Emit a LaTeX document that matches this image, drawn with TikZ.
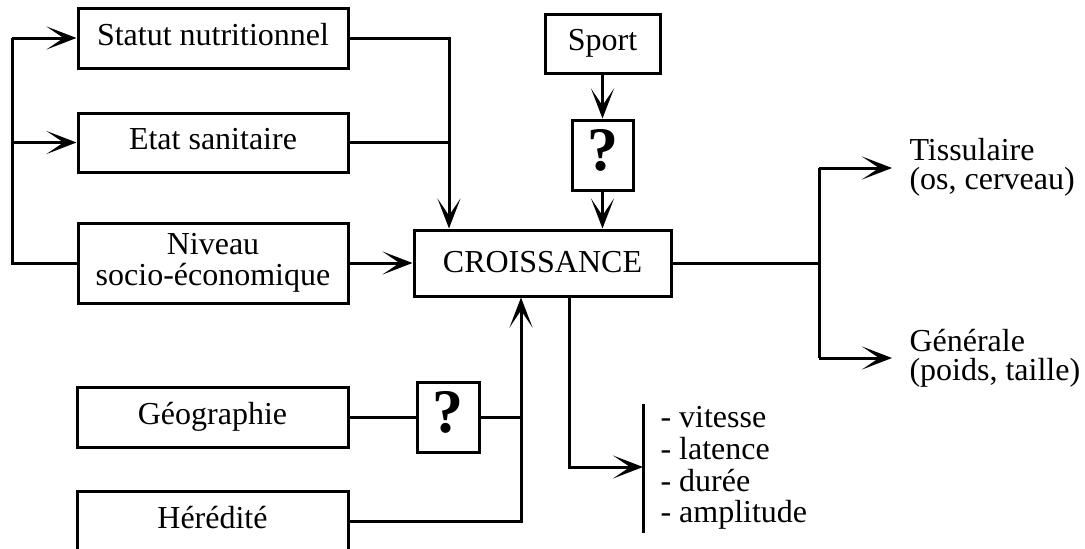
\documentclass[tikz,border=0pt]{standalone}
\usepackage{fontspec}
\setmainfont{Liberation Serif}
\usetikzlibrary{arrows.meta}
\begin{document}
\begin{tikzpicture}[x=1pt,y=-1pt,
  line width=3pt,
  every node/.style={inner sep=0pt},
  box/.style={draw, minimum width=270pt, minimum height=60pt, font=\fontsize{32}{30}\selectfont, text height=22pt, text depth=7.5pt},
  mbox/.style={draw, minimum width=270pt, minimum height=80pt, font=\fontsize{32}{31}\selectfont, align=center},
  qbox/.style={draw, minimum width=61pt, minimum height=70pt, font=\fontsize{62}{62}\selectfont\bfseries, text height=43pt, text depth=13pt},
  lbl/.style={font=\fontsize{32}{29}\selectfont, align=left, anchor=west},
  arr/.style={-{Stealth[length=30pt,width=23pt,inset=17pt,line width=2.6pt]}}
]
\useasboundingbox (0,0) rectangle (1085,549);
% boxes
\node[box] (statut) at (213,38) {Statut nutritionnel};
\node[box, minimum height=59pt] (etat) at (213,142.5) {Etat sanitaire};
\node[mbox] (niveau) at (213,263) {Niveau\\socio-économique};
\node[box, minimum width=257pt, minimum height=66pt, text height=22pt, text depth=4pt] (croiss) at (542.5,263) {CROISSANCE};
\node[box, minimum width=115pt, minimum height=59pt] (sport) at (602.5,43.5) {Sport};
\node[qbox] (q1) at (602.5,155) {?};
\node[box, minimum width=271pt] (geo) at (212.5,417) {Géographie};
\node[box, minimum width=271pt] (hered) at (212.5,521) {Hérédité};
\node[qbox, minimum width=62pt] (q2) at (448,417) {?};
% texts
\node[lbl] (tiss) at (908,167) {Tissulaire\\(os, cerveau)};
\node[lbl] (gen) at (908,358) {Générale\\(poids, taille)};
\node[lbl, font=\fontsize{32}{31.7}\selectfont] (list) at (659,468) {- vitesse\\- latence\\- durée\\- amplitude};
% coordinates
\coordinate (cL0) at (12,38);
\coordinate (cL1) at (12,142.5);
\coordinate (cL2) at (12,263);
\coordinate (j1) at (449,38);
\coordinate (j2) at (819,263);
\coordinate (j2t) at (819,168);
\coordinate (j2b) at (819,358);
\coordinate (tipT) at (892,168);
\coordinate (tipB) at (892,358);
\coordinate (j3) at (521,417);
\coordinate (j4) at (521,521);
\coordinate (j5) at (569,467);
\coordinate (barT) at (643,404);
\coordinate (barB) at (643,533);
\coordinate (barA) at (643,467);
% connectors left
\draw[arr] (cL0) -- (statut.west);
\draw[arr] (cL1) -- (etat.west);
\draw (cL0) -- (cL2) -- (niveau.west);
\draw[arr] (niveau.east) -- (croiss.west);
\draw[arr] (statut.east) -- (j1) -- (j1 |- croiss.north);
\draw (etat.east) -- (etat.east -| j1);
% sport
\draw[arr] (sport.south) -- (q1.north);
\draw[arr] (q1.south) -- (q1.south |- croiss.north);
% right
\draw (croiss.east) -- (j2);
\draw (j2t) -- (j2b);
\draw[arr] (j2t) -- (tipT);
\draw[arr] (j2b) -- (tipB);
% bottom
\draw (geo.east) -- (q2.west);
\draw (q2.east) -- (j3);
\draw[arr] (hered.east) -- (j4) -- (j4 |- croiss.south);
\draw[arr] (croiss.south -| j5) -- (j5) -- (barA);
\draw (barT) -- (barB);
\end{tikzpicture}
\end{document}
